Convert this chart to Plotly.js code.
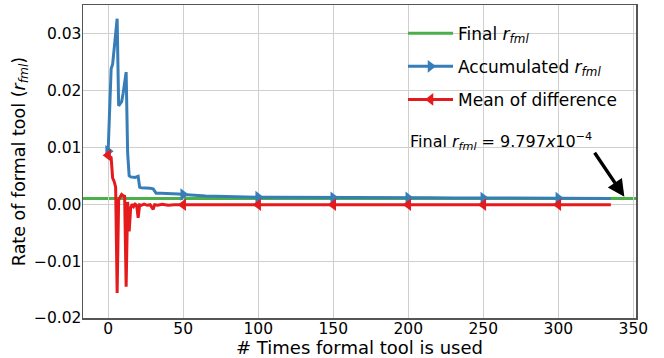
<!DOCTYPE html>
<html>
<head>
<meta charset="utf-8">
<script src="https://cdn.plot.ly/plotly-3.0.1.min.js"></script>
<style>html,body{margin:0;padding:0;background:#fff;}#chart{width:664px;height:358px;}</style>
</head>
<body>
<div id="chart"></div>
<script>
// ---- data ----
const accX = [0, 1, 2, 3, 4, 5, 6, 7, 8, 9, 10, 11, 12, 13, 14, 15, 16, 18, 20, 21, 22, 25, 28, 30, 31, 32, 35, 40, 45, 47, 50, 55, 60, 65, 72, 80, 90, 100, 110, 120, 135, 150, 160, 175, 190, 200, 215, 230, 250, 265, 280, 300, 315, 325, 335];
const accY = [0.0093, 0.0170, 0.0238, 0.0246, 0.0270, 0.0300, 0.0326, 0.0173, 0.0176, 0.0180, 0.0195, 0.0212, 0.0232, 0.0090, 0.0050, 0.0048, 0.0048, 0.0047, 0.0049, 0.0030, 0.0029, 0.0029, 0.0028, 0.0027, 0.0022, 0.0019, 0.0019, 0.0019, 0.0018, 0.0018, 0.0017, 0.0016, 0.0015, 0.00145, 0.0014, 0.00132, 0.00126, 0.00123, 0.00120, 0.00118, 0.00116, 0.00113, 0.00112, 0.00114, 0.00111, 0.00110, 0.00111, 0.00109, 0.00107, 0.00108, 0.00106, 0.00105, 0.00106, 0.00104, 0.00102];

const difX = [0, 1, 2, 3, 4, 5, 6, 7, 8, 9, 10, 11, 12, 13, 14, 15, 16, 17, 18, 19, 20, 21, 22, 24, 26, 28, 30, 31, 33, 36, 40, 44, 50, 60, 75, 100, 125, 150, 175, 200, 225, 250, 275, 300, 320, 335];
const difY = [0.0086, 0.0084, 0.0082, 0.0046, 0.0040, 0.0030, -0.0156, 0.0008, 0.0012, 0.0017, 0.0015, 0.0014, -0.0145, 0.0004, -0.0048, -0.0007, 0.0000, -0.0004, 0.0000, -0.0002, -0.0024, -0.0001, -0.0002, 0.0000, -0.0002, -0.0001, -0.0009, -0.0001, -0.0002, 0.0000, -0.0002, -0.0001, -0.0001, -0.0001, -0.0001, -0.0001, -0.0001, -0.0001, -0.0001, -0.0001, -0.0001, -0.0001, -0.0001, -0.0001, -0.0001, -0.0001];

const finalRate = 9.797e-4;
const markEvery = 50;
const xTicks = [0, 50, 100, 150, 200, 250, 300, 350];
const yTicks = [-0.02, -0.01, 0.00, 0.01, 0.02, 0.03];

const BLUE = '#377eb8', RED = '#e41a1c', GREEN = '#4daf4a';
const FONT = 'DejaVu Sans, Verdana, sans-serif';

function every(xs, ys) {
  const mx = [], my = [];
  xs.forEach((x, i) => { if (x % markEvery === 0) { mx.push(x); my.push(ys[i]); } });
  return {mx, my};
}
const accM = every(accX, accY);
const difM = every(difX, difY);

const rml = '<i>r</i><sub><i>fml</i></sub>';
const LW = 3;
const MS = 11;

const traces = [
  // legend-only entries
  {x: [null], y: [null], mode: 'lines', name: 'Final ' + rml, legendgroup: 'a',
   line: {color: GREEN, width: LW}},
  {x: [null], y: [null], mode: 'lines+markers', name: 'Accumulated ' + rml, legendgroup: 'b',
   line: {color: BLUE, width: LW}, marker: {symbol: 'triangle-right', size: MS, color: BLUE}},
  {x: [null], y: [null], mode: 'lines+markers', name: 'Mean of difference', legendgroup: 'c',
   line: {color: RED, width: LW}, marker: {symbol: 'triangle-left', size: MS, color: RED}},
  // data lines
  {x: accX, y: accY, mode: 'lines', showlegend: false, hoverinfo: 'skip',
   line: {color: BLUE, width: LW}},
  {x: accM.mx, y: accM.my, mode: 'markers', showlegend: false, hoverinfo: 'skip',
   marker: {symbol: 'triangle-right', size: MS, color: BLUE}},
  {x: difX, y: difY, mode: 'lines', showlegend: false, hoverinfo: 'skip',
   line: {color: RED, width: LW}},
  {x: difM.mx, y: difM.my, mode: 'markers', showlegend: false, hoverinfo: 'skip',
   marker: {symbol: 'triangle-left', size: MS, color: RED}}
];

const axisCommon = {
  showgrid: true, gridcolor: '#cfcfcf', gridwidth: 1,
  showline: true, mirror: true, linecolor: '#555', linewidth: 1.5,
  ticks: '', zeroline: false, automargin: false,
  tickfont: {family: FONT, size: 15.5, color: '#000'}
};

const layout = {
  width: 664, height: 358,
  margin: {l: 83, r: 28, t: 5, b: 40},
  paper_bgcolor: '#fff', plot_bgcolor: '#fff',
  font: {family: FONT, color: '#000'},
  showlegend: true,
  legend: {x: 0.5787, y: 0.966, xanchor: 'left', yanchor: 'top', bgcolor: 'rgba(0,0,0,0)',
           itemwidth: 45,
           font: {family: FONT, size: 17, color: '#000'}, traceorder: 'grouped', tracegroupgap: 8},
  xaxis: Object.assign({}, axisCommon, {
    range: [-16.75, 351.75], tickvals: xTicks, ticktext: xTicks.map(String),
    ticklabelstandoff: -4,
    title: {text: '# Times formal tool is used', font: {family: FONT, size: 18, color: '#000'}, standoff: 0}
  }),
  yaxis: Object.assign({}, axisCommon, {
    range: [-0.02, 0.035], tickvals: yTicks, ticktext: yTicks.map(v => v.toFixed(2).replace('-', '\u2212')),
    ticklabelstandoff: -3,
    title: {text: 'Rate of formal tool (' + rml + ')', font: {family: FONT, size: 17.5, color: '#000'}, standoff: 4}
  }),
  shapes: [
    {type: 'line', xref: 'paper', x0: 0, x1: 1, yref: 'y', y0: finalRate, y1: finalRate,
     line: {color: GREEN, width: LW}, layer: 'below'}
  ],
  annotations: [
    {x: 200, y: 0.00865, xref: 'x', yref: 'y', xanchor: 'left', yanchor: 'bottom', showarrow: false,
     text: 'Final ' + rml + ' = 9.797<i>x</i>10<sup>\u22124</sup>', font: {family: FONT, size: 16, color: '#000'}},
    {x: 344, y: 0.0013, xref: 'x', yref: 'y', ax: 323.5, ay: 0.0093, axref: 'x', ayref: 'y',
     text: '', showarrow: true, arrowhead: 2, arrowsize: 1, arrowwidth: 3.4, arrowcolor: '#000'}
  ]
};

Plotly.newPlot('chart', traces, layout, {displayModeBar: false, staticPlot: true});
</script>
</body>
</html>
